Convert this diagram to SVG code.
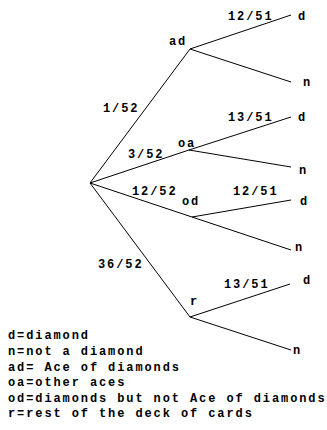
<svg xmlns="http://www.w3.org/2000/svg" width="327" height="430" viewBox="0 0 327 430">
<style>
text{font-family:"Liberation Mono","Courier New",monospace;font-weight:bold;font-size:12px;letter-spacing:1.9px;fill:#000}
line{stroke:#000;stroke-width:1}
</style>
<rect width="327" height="430" fill="#fff"/>
<g id="connectors">
<line x1="90" y1="183" x2="190" y2="49"/>
<line x1="90" y1="183" x2="189" y2="150"/>
<line x1="90" y1="183" x2="192" y2="217"/>
<line x1="90" y1="183" x2="190" y2="317"/>
<line x1="190" y1="49" x2="291" y2="15"/>
<line x1="190" y1="49" x2="291" y2="82"/>
<line x1="189" y1="150" x2="291" y2="117"/>
<line x1="189" y1="150" x2="291" y2="167"/>
<line x1="192" y1="217" x2="291" y2="200"/>
<line x1="192" y1="217" x2="291" y2="250"/>
<line x1="190" y1="317" x2="290" y2="284"/>
<line x1="190" y1="317" x2="291" y2="350"/>
</g>
<g id="labels">
<text x="103" y="112">1/52</text>
<text x="128" y="158">3/52</text>
<text x="132" y="195">12/52</text>
<text x="98" y="268">36/52</text>
<text x="228" y="20">12/51</text>
<text x="228" y="121">13/51</text>
<text x="233" y="195">12/51</text>
<text x="224" y="288">13/51</text>
</g>
<g id="node-ad"><text x="169" y="45">ad</text></g>
<g id="node-oa"><text x="178" y="147">oa</text></g>
<g id="node-od"><text x="182" y="205">od</text></g>
<g id="node-r"><text x="190" y="305">r</text></g>
<g id="node-ad-d"><text x="298" y="20">d</text></g>
<g id="node-ad-n"><text x="303" y="86">n</text></g>
<g id="node-oa-d"><text x="298" y="121">d</text></g>
<g id="node-oa-n"><text x="299" y="174">n</text></g>
<g id="node-od-d"><text x="300" y="205">d</text></g>
<g id="node-od-n"><text x="295" y="251">n</text></g>
<g id="node-r-d"><text x="303" y="284">d</text></g>
<g id="node-r-n"><text x="293" y="354">n</text></g>
<g id="legend">
<text x="8" y="339">d=diamond</text>
<text x="8" y="355">n=not a diamond</text>
<text x="8" y="370.5">ad= Ace of diamonds</text>
<text x="8" y="386">oa=other aces</text>
<text x="8" y="401.5">od=diamonds but not Ace of diamonds</text>
<text x="8" y="417">r=rest of the deck of cards</text>
</g>
</svg>
